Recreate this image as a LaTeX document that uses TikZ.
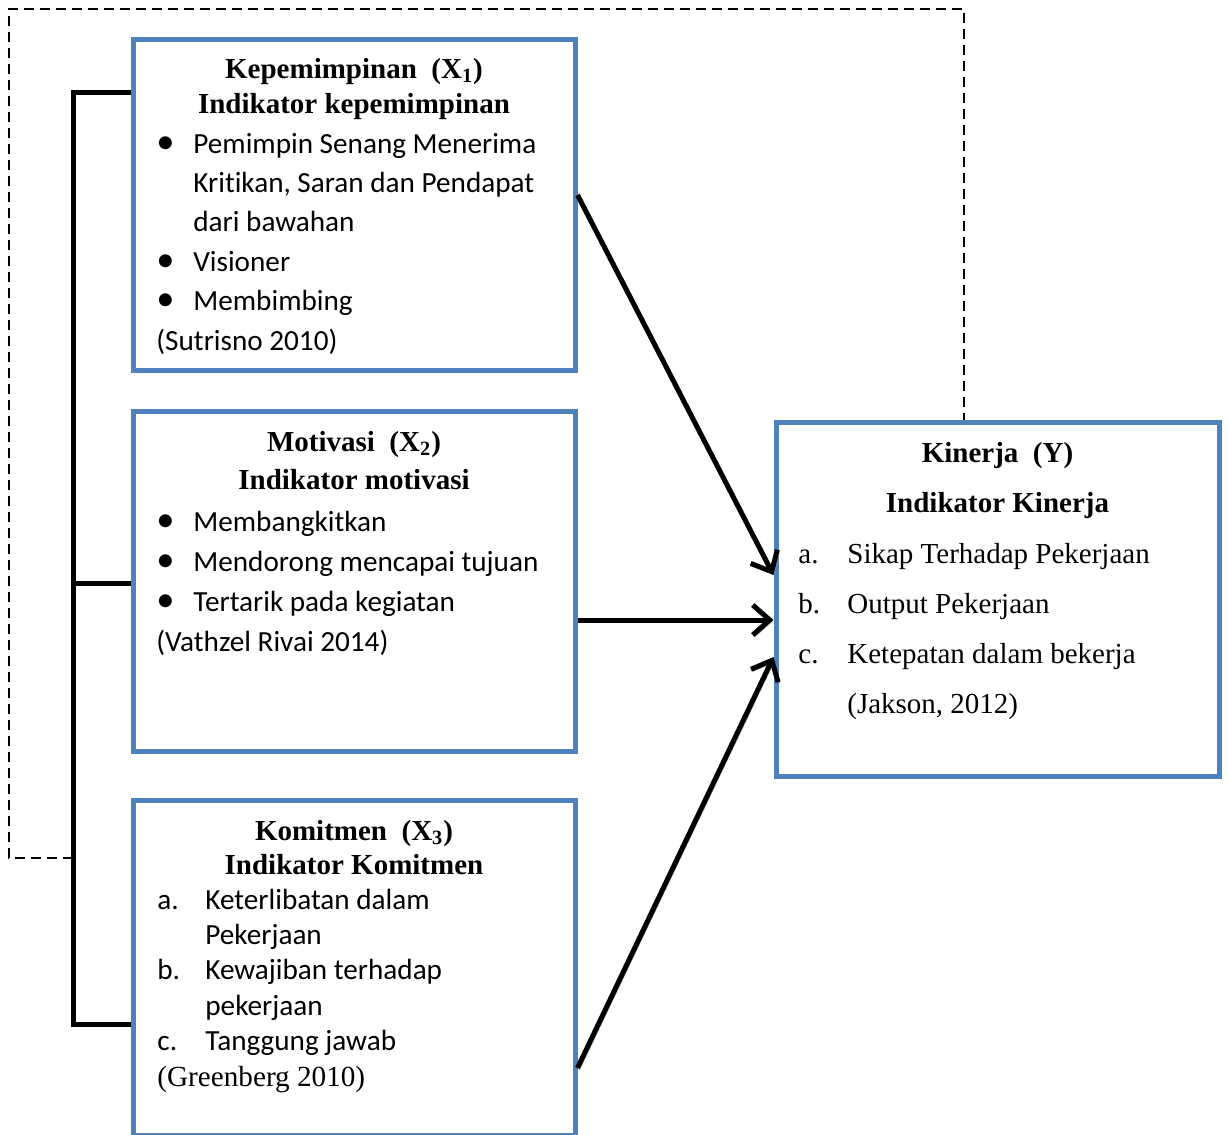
\documentclass[tikz,border=0pt]{standalone}
\usepackage{fontspec}
\setmainfont{Liberation Serif}
\newfontfamily\calfont[Ligatures=NoCommon]{Carlito}
\usetikzlibrary{arrows.meta}

\definecolor{boxblue}{RGB}{79,129,189}
\newcommand{\itm}{\makebox[18.5pt][l]{\scalebox{1.25}{\textbullet}}}
\newcommand{\ind}{\hspace*{18.5pt}}
\newcommand{\enm}[2][24pt]{\makebox[#1][l]{#2}}

\tikzset{
    varbox/.style={draw=boxblue, line width=2.5pt, inner sep=0pt},
    ttl/.style={font=\fontsize{14.5}{#1}\selectfont\bfseries, align=center, anchor=base, inner sep=0pt},
    lst/.style={font=\calfont\fontsize{14.6}{#1}\selectfont, align=left, anchor=base west, inner sep=0pt},
    effect/.style={line width=2.5pt, -{Straight Barb[length=8.5pt,width=15pt]},
        preaction={draw=black!30, transform canvas={shift={(1pt,-1pt)}}}},
    joint/.style={line width=2.5pt, line join=miter},
    feedback/.style={line width=1.1pt, dash pattern=on 5pt off 3pt}
}

\begin{document}
\begin{tikzpicture}[x=0.5pt,y=-0.5pt]
            \useasboundingbox (0,0) rectangle (1228,1135);
            % variable boxes
            \node[varbox, minimum width=221pt, minimum height=165.5pt] (kep) at (354,204.5) {};
            \node[varbox, minimum width=221pt, minimum height=170pt] (mot) at (354,581) {};
            \node[varbox, minimum width=221pt, minimum height=167.5pt] (kom) at (354,967.5) {};
            \node[varbox, minimum width=221.5pt, minimum height=177pt] (kin) at (997.5,599) {};

            % texts, placed at the baseline of their last line
            \node[ttl=17.5] (kepT) at (354,113) {Kepemimpinan\ \ (X\textsubscript{1})\\Indikator kepemimpinan};
            \node[lst=19.7] (kepL) at (156,350) {\itm Pemimpin Senang Menerima\\\ind Kritikan, Saran dan Pendapat\\\ind dari bawahan\\\itm Visioner\\\itm Membimbing\\(Sutrisno 2010)};

            \node[ttl=19] (motT) at (354,489) {Motivasi\ \ (X\textsubscript{2})\\Indikator motivasi};
            \node[lst=19.85] (motL) at (156,651) {\itm Membangkitkan\\\itm Mendorong mencapai tujuan\\\itm Tertarik pada kegiatan\\(Vathzel Rivai 2014)};

            \node[ttl=17] (komT) at (354,874) {Komitmen\ \ (X\textsubscript{3})\\Indikator Komitmen};
            \node[lst=17.7] (komL) at (157,1086) {\enm{a.}Keterlibatan dalam\\\enm{}Pekerjaan\\\enm{b.}Kewajiban terhadap\\\enm{}pekerjaan\\\enm{c.}Tanggung jawab\\{\rmfamily (Greenberg 2010)}};

            \node[ttl=25] (kinT) at (997.5,512) {Kinerja\ \ (Y)\\Indikator Kinerja};
            \node[lst=25, font=\fontsize{14.5}{25}\selectfont] (kinL) at (798,713) {\enm[24.5pt]{a.}Sikap Terhadap Pekerjaan\\\enm[24.5pt]{b.}Output Pekerjaan\\\enm[24.5pt]{c.}Ketepatan dalam bekerja\\\enm[24.5pt]{}(Jakson, 2012)};

            % bracket and feedback line
            \coordinate (bb) at (73,1024);
            \coordinate (fb) at (73,858);
            \draw[joint] ([yshift=56.25pt]kep.west) -| (bb) -- ([yshift=-28.25pt]kom.west);
            \draw[joint] ([yshift=-1pt]mot.west) -- ([yshift=-1pt]mot.west -| bb);
            \draw[feedback] (fb) -| (9,9) -| ([xshift=-16.75pt]kin.north);

            % effects on kinerja
            \draw[effect] ([yshift=4.75pt]kep.east) -- ([yshift=12pt]kin.west);
            \draw[effect] ([yshift=-19.5pt]mot.east) -- ([yshift=-10.5pt]kin.west);
            \draw[effect] ([yshift=-50.25pt]kom.east) -- ([yshift=-29pt]kin.west);
        \end{tikzpicture}
\end{document}
